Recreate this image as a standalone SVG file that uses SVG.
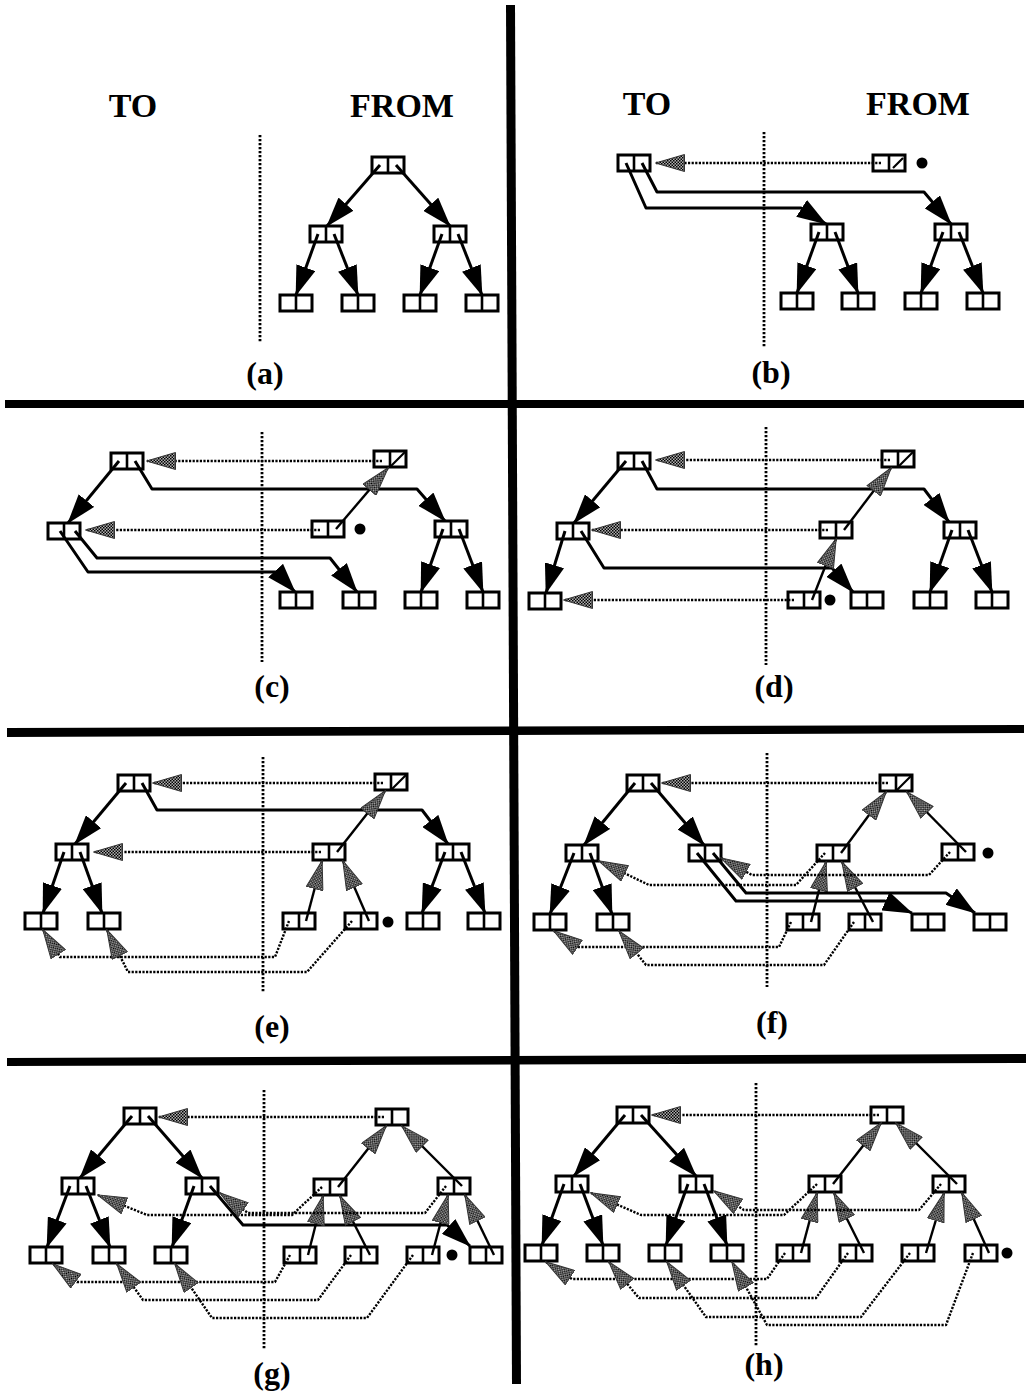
<svg xmlns="http://www.w3.org/2000/svg" xmlns:xlink="http://www.w3.org/1999/xlink" width="1028" height="1394" viewBox="0 0 1028 1394">
<style>
.lbl{font-family:"Liberation Serif","Times New Roman",serif;font-weight:bold;fill:#000;text-anchor:middle}
.hd{font-size:34px}
.cap{font-size:32px}
.ar{fill:none;stroke:#000;stroke-width:3;stroke-linejoin:round;marker-end:url(#bh)}
.bp{fill:none;stroke:#000;stroke-width:2.4;marker-end:url(#gh)}
.dp{fill:none;stroke:#000;stroke-width:2.4;stroke-dasharray:2.2 1.4;stroke-linejoin:round;marker-end:url(#gh)}
.dv{stroke:#000;stroke-width:2.8;stroke-dasharray:2.2 1.8;fill:none}
.sl{stroke:#000;stroke-width:2.2}
.dot{fill:#000}
</style>
<defs>
<pattern id="st" width="3" height="3" patternUnits="userSpaceOnUse"><rect width="3" height="3" fill="#b0b0b0"/><rect width="1.5" height="1.5" fill="#000"/><rect x="1.5" y="1.5" width="1.5" height="1.5" fill="#000"/></pattern>
<marker id="bh" markerUnits="userSpaceOnUse" markerWidth="30" markerHeight="20" viewBox="0 0 30 20" refX="29" refY="10" orient="auto"><path d="M0,0 L30,10 L0,20 z" fill="#000"/></marker>
<marker id="gh" markerUnits="userSpaceOnUse" markerWidth="30" markerHeight="18" viewBox="0 0 30 18" refX="29" refY="9" orient="auto"><path d="M0.5,0.5 L29.5,9 L0.5,17.5 z" fill="url(#st)" stroke="#333" stroke-width="1"/></marker>
<g id="pair"><rect x="0" y="0" width="32" height="16" fill="#fff" stroke="#000" stroke-width="3"/><line x1="16" y1="0" x2="16" y2="16" stroke="#000" stroke-width="2.6"/></g>
</defs>
<rect width="1028" height="1394" fill="#fff"/>
<g id="frame">
<polygon points="506,5 515,5 521,1384 512,1384" fill="#000"/>
<polygon points="5,400 1024,400 1024,408 5,408" fill="#000"/>
<polygon points="7,728 1024,725 1024,733 7,737" fill="#000"/>
<polygon points="7,1058 1026,1054 1026,1063 7,1066" fill="#000"/>
</g>

<!-- Panel a -->
<g id="panel-a">
<text class="lbl hd" x="133" y="117">TO</text>
<text class="lbl hd" x="402" y="117">FROM</text>
<text class="lbl cap" x="265" y="384">(a)</text>
<line class="dv" x1="260" y1="135" x2="260" y2="342"/>
<g id="a-root"><use xlink:href="#pair" x="372" y="157"/></g>
<g id="a-f1"><use xlink:href="#pair" x="310" y="226"/></g>
<g id="a-f2"><use xlink:href="#pair" x="434" y="226"/></g>
<g id="a-l1"><use xlink:href="#pair" x="280" y="295"/></g>
<g id="a-l2"><use xlink:href="#pair" x="342" y="295"/></g>
<g id="a-l3"><use xlink:href="#pair" x="404" y="295"/></g>
<g id="a-l4"><use xlink:href="#pair" x="466" y="295"/></g>
</g>

<!-- Panel b -->
<g id="panel-b">
<text class="lbl hd" x="647" y="115">TO</text>
<text class="lbl hd" x="918" y="115">FROM</text>
<text class="lbl cap" x="771" y="383">(b)</text>
<line class="dv" x1="764" y1="132" x2="764" y2="348"/>
<g id="b-t1"><use xlink:href="#pair" x="618" y="155"/></g>
<g id="b-root"><use xlink:href="#pair" x="873" y="155"/><line class="sl" x1="893" y1="168" x2="903" y2="158"/></g>
<g id="b-f1"><use xlink:href="#pair" x="811" y="224"/></g>
<g id="b-f2"><use xlink:href="#pair" x="935" y="224"/></g>
<g id="b-l1"><use xlink:href="#pair" x="781" y="293"/></g>
<g id="b-l2"><use xlink:href="#pair" x="842" y="293"/></g>
<g id="b-l3"><use xlink:href="#pair" x="905" y="293"/></g>
<g id="b-l4"><use xlink:href="#pair" x="967" y="293"/></g>
<g id="b-scan"><circle class="dot" cx="922" cy="163" r="5.5"/></g>
</g>

<!-- Panel c -->
<g id="panel-c">
<text class="lbl cap" x="272" y="697">(c)</text>
<line class="dv" x1="262" y1="432" x2="262" y2="662"/>
<g id="c-t1"><use xlink:href="#pair" x="111" y="453"/></g>
<g id="c-t2"><use xlink:href="#pair" x="48" y="523"/></g>
<g id="c-root"><use xlink:href="#pair" x="374" y="451"/><line class="sl" x1="391" y1="466" x2="405" y2="452"/></g>
<g id="c-f1"><use xlink:href="#pair" x="312" y="521"/></g>
<g id="c-f2"><use xlink:href="#pair" x="435" y="521"/></g>
<g id="c-l1"><use xlink:href="#pair" x="280" y="592"/></g>
<g id="c-l2"><use xlink:href="#pair" x="343" y="592"/></g>
<g id="c-l3"><use xlink:href="#pair" x="405" y="592"/></g>
<g id="c-l4"><use xlink:href="#pair" x="467" y="592"/></g>
<g id="c-scan"><circle class="dot" cx="360" cy="529" r="5.5"/></g>
</g>

<!-- Panel d -->
<g id="panel-d">
<text class="lbl cap" x="774" y="697">(d)</text>
<line class="dv" x1="766" y1="427" x2="766" y2="665"/>
<g id="d-t1"><use xlink:href="#pair" x="618" y="453"/></g>
<g id="d-t2"><use xlink:href="#pair" x="557" y="523"/></g>
<g id="d-t3"><use xlink:href="#pair" x="529" y="593"/></g>
<g id="d-root"><use xlink:href="#pair" x="882" y="451"/><line class="sl" x1="899" y1="466" x2="913" y2="452"/></g>
<g id="d-f1"><use xlink:href="#pair" x="820" y="522"/></g>
<g id="d-f2"><use xlink:href="#pair" x="944" y="522"/></g>
<g id="d-l1"><use xlink:href="#pair" x="788" y="592"/></g>
<g id="d-l2"><use xlink:href="#pair" x="851" y="592"/></g>
<g id="d-l3"><use xlink:href="#pair" x="914" y="592"/></g>
<g id="d-l4"><use xlink:href="#pair" x="976" y="592"/></g>
<g id="d-scan"><circle class="dot" cx="830" cy="600" r="5.5"/></g>
</g>

<!-- Panel e -->
<g id="panel-e">
<text class="lbl cap" x="272" y="1037">(e)</text>
<line class="dv" x1="263" y1="757" x2="263" y2="993"/>
<g id="e-t1"><use xlink:href="#pair" x="118" y="775"/></g>
<g id="e-t2"><use xlink:href="#pair" x="56" y="844"/></g>
<g id="e-tA"><use xlink:href="#pair" x="25" y="913"/></g>
<g id="e-tB"><use xlink:href="#pair" x="88" y="913"/></g>
<g id="e-root"><use xlink:href="#pair" x="375" y="774"/><line class="sl" x1="392" y1="789" x2="406" y2="775"/></g>
<g id="e-f1"><use xlink:href="#pair" x="313" y="844"/></g>
<g id="e-f2"><use xlink:href="#pair" x="437" y="844"/></g>
<g id="e-l1"><use xlink:href="#pair" x="283" y="913"/></g>
<g id="e-l2"><use xlink:href="#pair" x="345" y="913"/></g>
<g id="e-l3"><use xlink:href="#pair" x="407" y="913"/></g>
<g id="e-l4"><use xlink:href="#pair" x="468" y="913"/></g>
<g id="e-scan"><circle class="dot" cx="388" cy="922" r="5.5"/></g>
</g>

<!-- Panel f -->
<g id="panel-f">
<text class="lbl cap" x="772" y="1033">(f)</text>
<line class="dv" x1="767" y1="753" x2="767" y2="987"/>
<g id="f-t1"><use xlink:href="#pair" x="627" y="775"/></g>
<g id="f-t2"><use xlink:href="#pair" x="566" y="845"/></g>
<g id="f-t3"><use xlink:href="#pair" x="689" y="845"/></g>
<g id="f-tA"><use xlink:href="#pair" x="534" y="914"/></g>
<g id="f-tB"><use xlink:href="#pair" x="597" y="914"/></g>
<g id="f-root"><use xlink:href="#pair" x="880" y="775"/><line class="sl" x1="897" y1="790" x2="911" y2="776"/></g>
<g id="f-f1"><use xlink:href="#pair" x="817" y="845"/></g>
<g id="f-f2"><use xlink:href="#pair" x="942" y="844"/></g>
<g id="f-l1"><use xlink:href="#pair" x="787" y="914"/></g>
<g id="f-l2"><use xlink:href="#pair" x="849" y="914"/></g>
<g id="f-l3"><use xlink:href="#pair" x="912" y="914"/></g>
<g id="f-l4"><use xlink:href="#pair" x="974" y="914"/></g>
<g id="f-scan"><circle class="dot" cx="988" cy="853" r="5.5"/></g>
</g>

<!-- Panel g -->
<g id="panel-g">
<text class="lbl cap" x="272" y="1384">(g)</text>
<line class="dv" x1="264" y1="1090" x2="264" y2="1350"/>
<g id="g-t1"><use xlink:href="#pair" x="124" y="1108"/></g>
<g id="g-t2"><use xlink:href="#pair" x="62" y="1178"/></g>
<g id="g-t3"><use xlink:href="#pair" x="186" y="1178"/></g>
<g id="g-tA"><use xlink:href="#pair" x="30" y="1247"/></g>
<g id="g-tB"><use xlink:href="#pair" x="93" y="1247"/></g>
<g id="g-tC"><use xlink:href="#pair" x="155" y="1247"/></g>
<g id="g-root"><use xlink:href="#pair" x="376" y="1109"/></g>
<g id="g-f1"><use xlink:href="#pair" x="314" y="1179"/></g>
<g id="g-f2"><use xlink:href="#pair" x="438" y="1178"/></g>
<g id="g-l1"><use xlink:href="#pair" x="284" y="1247"/></g>
<g id="g-l2"><use xlink:href="#pair" x="345" y="1247"/></g>
<g id="g-l3"><use xlink:href="#pair" x="407" y="1247"/></g>
<g id="g-l4"><use xlink:href="#pair" x="470" y="1247"/></g>
<g id="g-scan"><circle class="dot" cx="452" cy="1255" r="5.5"/></g>
</g>

<!-- Panel h -->
<g id="panel-h">
<text class="lbl cap" x="764" y="1375">(h)</text>
<line class="dv" x1="756" y1="1083" x2="756" y2="1347"/>
<g id="h-t1"><use xlink:href="#pair" x="617" y="1107"/></g>
<g id="h-t2"><use xlink:href="#pair" x="556" y="1176"/></g>
<g id="h-t3"><use xlink:href="#pair" x="680" y="1176"/></g>
<g id="h-tA"><use xlink:href="#pair" x="525" y="1245"/></g>
<g id="h-tB"><use xlink:href="#pair" x="587" y="1245"/></g>
<g id="h-tC"><use xlink:href="#pair" x="649" y="1245"/></g>
<g id="h-tD"><use xlink:href="#pair" x="711" y="1245"/></g>
<g id="h-root"><use xlink:href="#pair" x="871" y="1107"/></g>
<g id="h-f1"><use xlink:href="#pair" x="809" y="1176"/></g>
<g id="h-f2"><use xlink:href="#pair" x="933" y="1176"/></g>
<g id="h-l1"><use xlink:href="#pair" x="777" y="1245"/></g>
<g id="h-l2"><use xlink:href="#pair" x="840" y="1245"/></g>
<g id="h-l3"><use xlink:href="#pair" x="902" y="1245"/></g>
<g id="h-l4"><use xlink:href="#pair" x="965" y="1245"/></g>
<g id="h-scan"><circle class="dot" cx="1007" cy="1253" r="5.5"/></g>
</g>

<g id="connectors">
<g id="conn-a">
<path class="ar" d="M380,165 L327,226"/>
<path class="ar" d="M396,165 L450,226"/>
<path class="ar" d="M318,234 L296,295"/>
<path class="ar" d="M334,234 L358,295"/>
<path class="ar" d="M442,234 L420,295"/>
<path class="ar" d="M458,234 L482,295"/>
</g>
<g id="conn-b">
<path class="dp" d="M881,163 L656,163"/>
<path class="ar" d="M626,163 L646,208 L801,208 L826,224"/>
<path class="ar" d="M642,163 L657,192 L924,192 L951,224"/>
<path class="ar" d="M819,232 L797,293"/>
<path class="ar" d="M835,232 L858,293"/>
<path class="ar" d="M943,232 L921,293"/>
<path class="ar" d="M959,232 L983,293"/>
</g>
<g id="conn-c">
<path class="dp" d="M382,461 L147,461"/>
<path class="dp" d="M320,530 L86,530"/>
<path class="ar" d="M119,461 L68,523"/>
<path class="ar" d="M135,461 L152,489 L417,489 L445,521"/>
<path class="bp" d="M336,529 L388,468"/>
<path class="ar" d="M60,531 L88,572 L277,572 L295,592"/>
<path class="ar" d="M75,531 L97,558 L330,558 L357,592"/>
<path class="ar" d="M443,529 L421,592"/>
<path class="ar" d="M459,529 L483,592"/>
</g>
<g id="conn-d">
<path class="dp" d="M890,460 L656,460"/>
<path class="dp" d="M828,530 L592,530"/>
<path class="dp" d="M794,600 L564,600"/>
<path class="ar" d="M626,461 L574,523"/>
<path class="ar" d="M642,461 L657,489 L924,489 L949,522"/>
<path class="bp" d="M844,530 L891,468"/>
<path class="ar" d="M565,531 L546,593"/>
<path class="ar" d="M581,531 L604,568 L832,568 L853,592"/>
<path class="bp" d="M812,600 L836,539"/>
<path class="ar" d="M952,530 L930,592"/>
<path class="ar" d="M968,530 L992,592"/>
</g>
<g id="conn-e">
<path class="dp" d="M383,783 L153,783"/>
<path class="dp" d="M321,852 L94,852"/>
<path class="ar" d="M126,783 L75,844"/>
<path class="ar" d="M142,783 L157,810 L422,810 L448,844"/>
<path class="bp" d="M337,852 L385,791"/>
<path class="ar" d="M64,852 L43,913"/>
<path class="ar" d="M80,852 L102,913"/>
<path class="ar" d="M445,852 L422,913"/>
<path class="ar" d="M461,852 L485,913"/>
<path class="bp" d="M306,921 L322,861"/>
<path class="bp" d="M369,921 L343,861"/>
<path class="dp" d="M289,921 L275,957 L60,957 L43,930"/>
<path class="dp" d="M352,921 L307,972 L128,972 L107,930"/>
</g>
<g id="conn-f">
<path class="dp" d="M888,783 L662,783"/>
<path class="ar" d="M635,783 L584,845"/>
<path class="ar" d="M651,783 L704,845"/>
<path class="ar" d="M574,853 L550,914"/>
<path class="ar" d="M590,853 L612,914"/>
<path class="bp" d="M841,853 L886,792"/>
<path class="bp" d="M966,852 L907,792"/>
<path class="bp" d="M811,922 L826,862"/>
<path class="bp" d="M873,922 L842,862"/>
<path class="ar" d="M697,853 L736,901 L885,901 L912,913"/>
<path class="ar" d="M713,853 L746,893 L946,893 L975,913"/>
<path class="dp" d="M825,853 L796,885 L649,885 L599,861"/>
<path class="dp" d="M950,852 L929,875 L752,875 L721,858"/>
<path class="dp" d="M791,922 L779,947 L577,947 L554,931"/>
<path class="dp" d="M854,922 L824,965 L646,965 L619,931"/>
</g>
<g id="conn-g">
<path class="dp" d="M384,1117 L159,1117"/>
<path class="ar" d="M132,1116 L80,1178"/>
<path class="ar" d="M148,1116 L202,1178"/>
<path class="ar" d="M70,1186 L47,1247"/>
<path class="ar" d="M86,1186 L110,1247"/>
<path class="ar" d="M194,1186 L172,1247"/>
<path class="ar" d="M210,1186 L243,1225 L447,1225 L470,1246"/>
<path class="bp" d="M338,1187 L386,1126"/>
<path class="bp" d="M462,1186 L402,1126"/>
<path class="bp" d="M308,1255 L323,1196"/>
<path class="bp" d="M370,1255 L340,1196"/>
<path class="bp" d="M432,1255 L448,1195"/>
<path class="bp" d="M494,1255 L465,1195"/>
<path class="dp" d="M322,1187 L292,1215 L147,1215 L98,1195"/>
<path class="dp" d="M446,1186 L425,1213 L248,1213 L220,1193"/>
<path class="dp" d="M290,1255 L275,1282 L77,1282 L53,1264"/>
<path class="dp" d="M351,1255 L318,1300 L143,1300 L117,1264"/>
<path class="dp" d="M413,1255 L367,1318 L212,1318 L175,1264"/>
</g>
<g id="conn-h">
<path class="dp" d="M879,1115 L652,1115"/>
<path class="ar" d="M625,1115 L574,1176"/>
<path class="ar" d="M641,1115 L696,1176"/>
<path class="ar" d="M564,1184 L542,1245"/>
<path class="ar" d="M580,1184 L603,1245"/>
<path class="ar" d="M688,1184 L666,1245"/>
<path class="ar" d="M704,1184 L727,1245"/>
<path class="bp" d="M833,1184 L881,1123"/>
<path class="bp" d="M957,1184 L896,1123"/>
<path class="bp" d="M801,1253 L817,1193"/>
<path class="bp" d="M864,1253 L834,1193"/>
<path class="bp" d="M926,1253 L944,1193"/>
<path class="bp" d="M989,1253 L962,1193"/>
<path class="dp" d="M817,1184 L784,1215 L641,1215 L591,1193"/>
<path class="dp" d="M941,1184 L919,1210 L744,1210 L714,1191"/>
<path class="dp" d="M785,1253 L767,1279 L572,1279 L546,1262"/>
<path class="dp" d="M848,1253 L816,1298 L639,1298 L609,1262"/>
<path class="dp" d="M910,1253 L861,1317 L706,1317 L667,1262"/>
<path class="dp" d="M973,1253 L946,1325 L767,1325 L732,1262"/>
</g>
</g>
</svg>
